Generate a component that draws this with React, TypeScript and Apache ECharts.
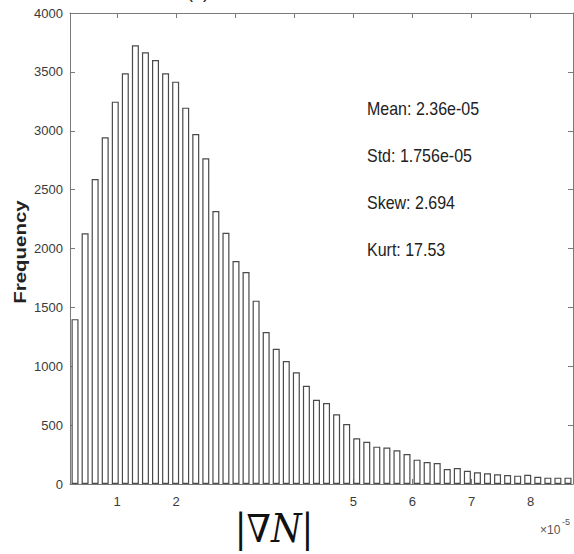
import React, { useEffect, useRef } from "react";
import * as echarts from "echarts";

// Histogram bins (x in units of 1e-5)
const binStart = 0.203;
const binWidth = 0.1703;
const counts = [
  1400, 2130, 2590, 2944, 3247, 3488, 3726, 3667, 3601, 3488,
  3417, 3196, 2972, 2766, 2318, 2134, 1894, 1800, 1557, 1291,
  1149, 1045, 949, 835, 716, 688, 592, 509, 388, 359,
  317, 310, 286, 255, 207, 187, 178, 128, 135, 113,
  99, 91, 82, 76, 71, 79, 62, 54, 54, 54,
];
const shownXTicks = [1, 2, 5, 6, 7, 8];
const yMin = 0;
const yMax = 4000;
const yStep = 500;
const statLines = ["Mean: 2.36e-05", "Std: 1.756e-05", "Skew: 2.694", "Kurt: 17.53"];
const yName = "Frequency";
const titleText = "(b)";

export default function App() {
  const ref = useRef<HTMLDivElement>(null);
  useEffect(() => {
    if (!ref.current) return;
    const chart = echarts.init(ref.current, null, { renderer: "svg" });
    const xMin = binStart;
    const xMax = binStart + counts.length * binWidth;
    const data = counts.map((c, i) => [binStart + (i + 0.5) * binWidth, c]);
    const axisColor = "#7a7a7a";
    const labelColor = "#3a3a3a";
    const font = "Liberation Sans, Arial, sans-serif";
    const xFmt = (v: number) => {
      const r = Math.round(v);
      return Math.abs(v - r) < 1e-6 && shownXTicks.includes(r) ? String(r) : "";
    };
    const baseX = {
      type: "value" as const,
      min: xMin,
      max: xMax,
      splitNumber: 8,
      axisLine: { show: true, onZero: false, lineStyle: { color: axisColor, width: 1 } },
      axisTick: { show: true, inside: true, length: 5, lineStyle: { color: axisColor } },
      splitLine: { show: false },
    };
    const baseY = {
      type: "value" as const,
      min: yMin,
      max: yMax,
      interval: yStep,
      axisLine: { show: true, lineStyle: { color: axisColor, width: 1 } },
      axisTick: { show: true, inside: true, length: 5, lineStyle: { color: axisColor } },
      splitLine: { show: false },
    };
    chart.setOption({
      animation: false,
      backgroundColor: "#ffffff",
      grid: { left: 70, right: 1, top: 13, bottom: 70, containLabel: false, outerBoundsMode: "none" },
      xAxis: [
        {
          ...baseX,
          position: "bottom",
          axisLabel: {
            show: true,
            formatter: xFmt,
            color: labelColor,
            fontSize: 13,
            fontFamily: font,
            margin: 11,
            showMinLabel: false,
            showMaxLabel: false,
          },
        },
        { ...baseX, position: "top", axisLabel: { show: false } },
      ],
      yAxis: [
        {
          ...baseY,
          position: "left",
          axisLabel: {
            show: true,
            formatter: (v: number) => String(v),
            color: labelColor,
            fontSize: 13,
            fontFamily: font,
            margin: 7,
          },
        },
        { ...baseY, position: "right", axisLabel: { show: false } },
      ],
      series: [
        {
          type: "bar",
          xAxisIndex: 0,
          yAxisIndex: 0,
          data,
          barWidth: 7,
          itemStyle: { color: "#ffffff", borderColor: "#4a4a4a", borderWidth: 1.2 },
          emphasis: { disabled: true },
        },
      ],
      graphic: [
        ...statLines.map((t, i) => ({
          type: "text",
          x: 367,
          y: 109 + i * 46.7,
          scaleY: 1.15,
          style: {
            text: t,
            fontSize: 16,
            fontFamily: font,
            fill: "#222222",
            align: "left",
            verticalAlign: "middle",
          },
        })),
        {
          type: "text",
          x: 20,
          y: 252,
          rotation: Math.PI / 2,
          scaleX: 1.28,
          style: {
            text: yName,
            fontSize: 16,
            fontWeight: "bold",
            fontFamily: font,
            fill: "#222222",
            align: "center",
            verticalAlign: "middle",
          },
        },
        {
          type: "text",
          x: 274,
          y: 529,
          scaleY: 1.1,
          style: {
            text: "{a||∇}{b|N}{a||}",
            align: "center",
            verticalAlign: "middle",
            fill: "#111111",
            rich: {
              a: { fontSize: 35, fontFamily: "DejaVu Serif", fill: "#111111" },
              b: { fontSize: 35, fontFamily: "DejaVu Serif", fontStyle: "italic", fill: "#111111" },
            },
          },
        },
        {
          type: "text",
          x: 540,
          y: 530,
          style: { text: "×10", fontSize: 12, fontFamily: font, fill: "#555555", align: "left", verticalAlign: "middle" },
        },
        {
          type: "text",
          x: 562,
          y: 522,
          style: { text: "-5", fontSize: 9, fontFamily: font, fill: "#555555", align: "left", verticalAlign: "middle" },
        },
        {
          type: "text",
          x: 198,
          y: 1,
          style: { text: titleText, fontSize: 18, fontFamily: font, fill: "#222222", align: "center", verticalAlign: "bottom" },
        },
      ],
    });
    return () => chart.dispose();
  }, []);
  return (
    <div
      ref={ref}
      style={{ position: "fixed", left: 0, top: 0, width: 574, height: 554, background: "#fff" }}
    />
  );
}
